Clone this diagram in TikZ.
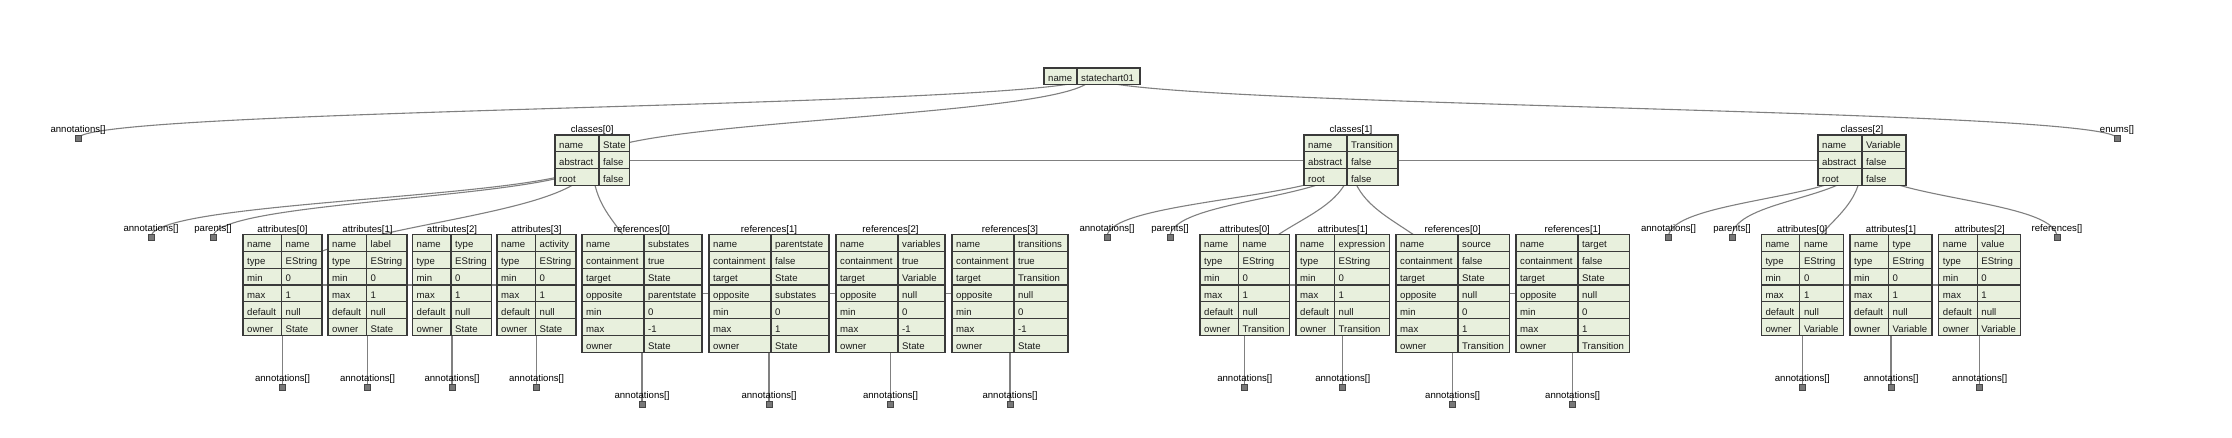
\documentclass[tikz,border=0pt]{standalone}
\usepackage{fontspec}
\setmainfont{Liberation Sans}
\usetikzlibrary{calc}
\pgfdeclarelayer{background}
\pgfsetlayers{background,main}
\definecolor{cellfill}{RGB}{232,240,221}
\definecolor{cellline}{RGB}{58,58,58}
\definecolor{edgec}{RGB}{128,128,128}
\definecolor{sqfill}{RGB}{120,120,120}
\definecolor{sqline}{RGB}{70,70,70}
\def\rowh{16.9}
\tikzset{
 edge/.style={draw=edgec, line width=1.1pt},
 cellbox/.style={draw=cellline, line width=1.1pt, fill=cellfill},
 tblbox/.style={rectangle, draw=cellline, line width=1.1pt, inner sep=0pt, outer sep=0pt},
 celltxt/.style={inner sep=0pt, font=\fontsize{9.6}{11}\selectfont, text=black!90},
 lbl/.style={inner sep=0pt, font=\fontsize{9.6}{11}\selectfont},
 leafsq/.style={rectangle, draw=sqline, fill=sqfill, line width=0.8pt, minimum size=6pt, inner sep=0pt},
}
% table: name, left, top, w1, w2, title, rows, nrows
\newcommand\mktbl[8]{%
 \pgfmathsetmacro\tblw{#4+#5}%
 \pgfmathsetmacro\tblh{#8*\rowh}%
 \node[tblbox, minimum width=\tblw pt, minimum height=\tblh pt, anchor=north west] (#1) at (#2,-#3) {};
 \if\relax\detokenize{#6}\relax\else
 \node[lbl, anchor=base] (#1-t) at ([yshift=2pt]#1.north) {#6};
 \fi
 \foreach \k/\v [count=\i from 0] in {#7} {
  \draw[cellbox] (#2,{-#3-\i*\rowh}) rectangle ++(#4,-\rowh);
  \draw[cellbox] ({#2+#4},{-#3-\i*\rowh}) rectangle ++(#5,-\rowh);
  \node[celltxt, anchor=base west] (#1-k\i) at ({#2+4},{-#3-\i*\rowh-13.3}) {\k};
  \node[celltxt, anchor=base west] (#1-v\i) at ({#2+#4+4},{-#3-\i*\rowh-13.3}) {\v};
 }
}
\newcommand\leaf[4]{%
 \node[leafsq] (#1) at (#2,-#3) {};
 \node[lbl, anchor=base] (#1-l) at ([yshift=2.5pt]#1.north) {#4};
}
\newcommand\subleaf[3]{%
 \node[leafsq] (#1) at (#2.center |- 0,-#3) {};
 \node[lbl, anchor=base] (#1-l) at ([yshift=2.5pt]#1.north) {annotations[]};
}
\newcommand\lnk[2]{%
 \begin{pgfonlayer}{background}
 \path ($(#1.center)!0.5!(#2.center)$) coordinate (lnkm);
 \draw[edge] (#1.center) .. controls (#1.center |- lnkm) and (#2.center |- lnkm) .. (#2.center);
 \end{pgfonlayer}
}
\newcommand\sib[2]{%
 \begin{pgfonlayer}{background}
 \draw[edge] (#1.center) -- (#2.center);
 \end{pgfonlayer}
}
\begin{document}
\begin{tikzpicture}[x=1pt,y=1pt]
\begin{pgfonlayer}{background}
\path[use as bounding box, fill=white] (0,0) rectangle (2232,-438);
\end{pgfonlayer}

% root
\mktbl{root}{1044}{68}{33}{63}{}{name/statechart01}{1}

% classes
\mktbl{c0}{555}{135}{44}{30.5}{classes[0]}{name/State,abstract/false,root/false}{3}
\mktbl{c1}{1304}{135}{43}{51}{classes[1]}{name/Transition,abstract/false,root/false}{3}
\mktbl{c2}{1818}{135}{44}{44}{classes[2]}{name/Variable,abstract/false,root/false}{3}

% State attributes / references
\mktbl{sa0}{243}{234.3}{38.5}{40.5}{attributes[0]}{name/name,type/EString,min/0,max/1,default/null,owner/State}{6}
\mktbl{sa1}{328}{234.3}{38.5}{40.5}{attributes[1]}{name/label,type/EString,min/0,max/1,default/null,owner/State}{6}
\mktbl{sa2}{412.5}{234.3}{38.5}{40.5}{attributes[2]}{name/type,type/EString,min/0,max/1,default/null,owner/State}{6}
\mktbl{sa3}{497}{234.3}{38.5}{40.5}{attributes[3]}{name/activity,type/EString,min/0,max/1,default/null,owner/State}{6}
\mktbl{sr0}{582}{234.3}{62}{58}{references[0]}{name/substates,containment/true,target/State,opposite/parentstate,min/0,max/-1,owner/State}{7}
\mktbl{sr1}{709}{234.3}{62}{58}{references[1]}{name/parentstate,containment/false,target/State,opposite/substates,min/0,max/1,owner/State}{7}
\mktbl{sr2}{836}{234.3}{62}{47}{references[2]}{name/variables,containment/true,target/Variable,opposite/null,min/0,max/-1,owner/State}{7}
\mktbl{sr3}{952}{234.3}{62}{54}{references[3]}{name/transitions,containment/true,target/Transition,opposite/null,min/0,max/-1,owner/State}{7}

% Transition attributes / references
\mktbl{ta0}{1200}{234.3}{38.5}{51}{attributes[0]}{name/name,type/EString,min/0,max/1,default/null,owner/Transition}{6}
\mktbl{ta1}{1296}{234.3}{38.5}{55}{attributes[1]}{name/expression,type/EString,min/0,max/1,default/null,owner/Transition}{6}
\mktbl{tr0}{1396}{234.3}{62}{51.3}{references[0]}{name/source,containment/false,target/State,opposite/null,min/0,max/1,owner/Transition}{7}
\mktbl{tr1}{1516}{234.3}{62}{51.3}{references[1]}{name/target,containment/false,target/State,opposite/null,min/0,max/1,owner/Transition}{7}

% Variable attributes
\mktbl{va0}{1761.3}{234.3}{38.5}{43.5}{attributes[0]}{name/name,type/EString,min/0,max/1,default/null,owner/Variable}{6}
\mktbl{va1}{1850}{234.3}{38.5}{43.5}{attributes[1]}{name/type,type/EString,min/0,max/1,default/null,owner/Variable}{6}
\mktbl{va2}{1938.7}{234.3}{38.5}{43.5}{attributes[2]}{name/value,type/EString,min/0,max/1,default/null,owner/Variable}{6}

% leaves
\leaf{ann}{78}{138.5}{annotations[]}
\leaf{enums}{2117}{138.5}{enums[]}
\leaf{c0ann}{151}{237}{annotations[]}
\leaf{c0par}{213}{237}{parents[]}
\leaf{c1ann}{1107}{237}{annotations[]}
\leaf{c1par}{1170}{237}{parents[]}
\leaf{c2ann}{1668.5}{237}{annotations[]}
\leaf{c2par}{1732}{237}{parents[]}
\leaf{c2ref}{2057}{237}{references[]}

\subleaf{sa0a}{sa0}{387}
\subleaf{sa1a}{sa1}{387}
\subleaf{sa2a}{sa2}{387}
\subleaf{sa3a}{sa3}{387}
\subleaf{sr0a}{sr0}{404}
\subleaf{sr1a}{sr1}{404}
\subleaf{sr2a}{sr2}{404}
\subleaf{sr3a}{sr3}{404}
\subleaf{ta0a}{ta0}{387}
\subleaf{ta1a}{ta1}{387}
\subleaf{tr0a}{tr0}{404}
\subleaf{tr1a}{tr1}{404}
\subleaf{va0a}{va0}{387}
\subleaf{va1a}{va1}{387}
\subleaf{va2a}{va2}{387}

% tree edges (parent to first element), list links between siblings
\lnk{root}{ann}\lnk{root}{c0}\lnk{root}{enums}
\sib{c0}{c1}\sib{c1}{c2}

\lnk{c0}{c0ann}\lnk{c0}{c0par}\lnk{c0}{sa0}\lnk{c0}{sr0}
\sib{sa0}{sa1}\sib{sa1}{sa2}\sib{sa2}{sa3}
\sib{sr0}{sr1}\sib{sr1}{sr2}\sib{sr2}{sr3}

\lnk{c1}{c1ann}\lnk{c1}{c1par}\lnk{c1}{ta0}\lnk{c1}{tr0}
\sib{ta0}{ta1}\sib{tr0}{tr1}

\lnk{c2}{c2ann}\lnk{c2}{c2par}\lnk{c2}{va0}\lnk{c2}{c2ref}
\sib{va0}{va1}\sib{va1}{va2}

\lnk{sa0}{sa0a}\lnk{sa1}{sa1a}\lnk{sa2}{sa2a}\lnk{sa3}{sa3a}
\lnk{sr0}{sr0a}\lnk{sr1}{sr1a}\lnk{sr2}{sr2a}\lnk{sr3}{sr3a}
\lnk{ta0}{ta0a}\lnk{ta1}{ta1a}\lnk{tr0}{tr0a}\lnk{tr1}{tr1a}
\lnk{va0}{va0a}\lnk{va1}{va1a}\lnk{va2}{va2a}
\end{tikzpicture}
\end{document}
